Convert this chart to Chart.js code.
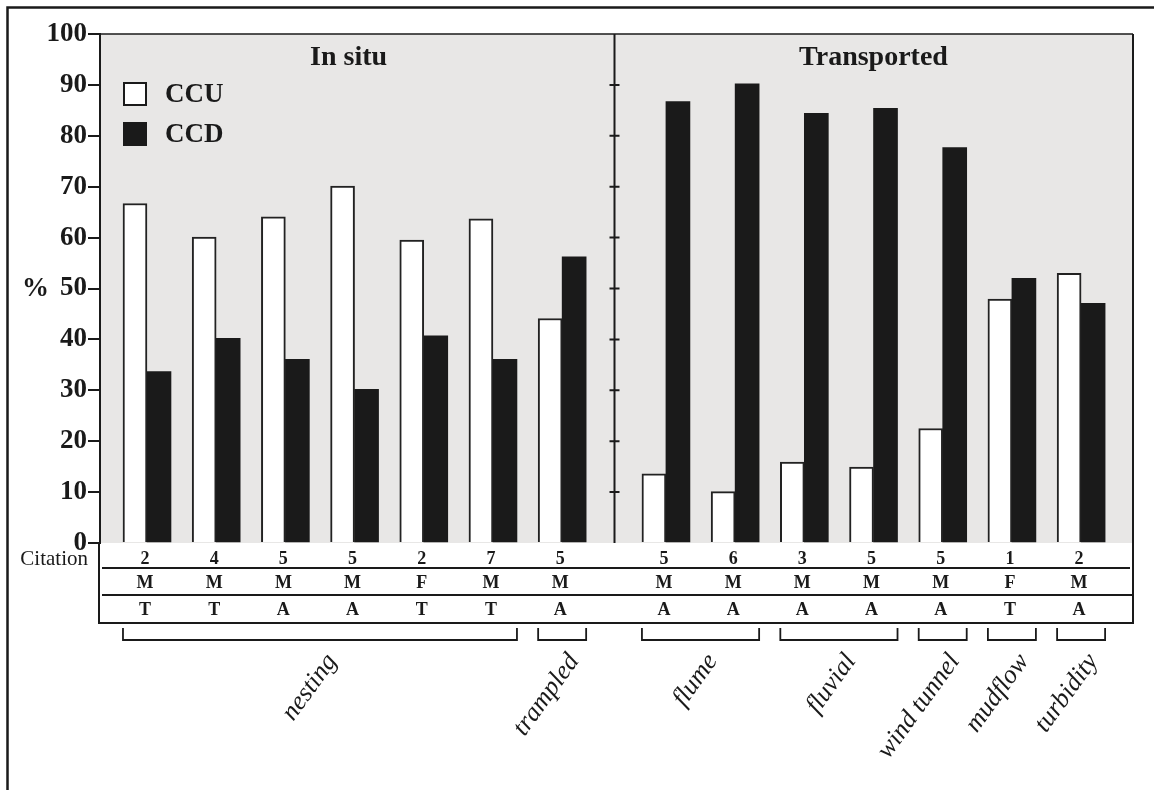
<!DOCTYPE html>
<html>
<head>
<meta charset="utf-8">
<script src="https://cdn.jsdelivr.net/npm/chart.js"></script>
<style>
  html, body { margin: 0; padding: 0; background: #fff; }
  #wrap { width: 1154px; height: 790px; }
</style>
</head>
<body>
<div id="wrap"><canvas id="myChart" width="1154" height="790"></canvas></div>
<script>
// values (percent)
var ccu = [66.7, 60.1, 64.1, 70.1, 59.5, 63.7, 44.1, 13.6, 10.1, 15.9, 14.9, 22.5, 47.9, 53.0];
var ccd = [33.7, 40.2, 36.1, 30.2, 40.7, 36.1, 56.2, 86.7, 90.2, 84.4, 85.4, 77.7, 52.0, 47.1];

// table under the bars
var citations = ['2', '4', '5', '5', '2', '7', '5', '5', '6', '3', '5', '5', '1', '2'];
var rowTwo = ['M', 'M', 'M', 'M', 'F', 'M', 'M', 'M', 'M', 'M', 'M', 'M', 'F', 'M'];
var rowThree = ['T', 'T', 'A', 'A', 'T', 'T', 'A', 'A', 'A', 'A', 'A', 'A', 'T', 'A'];

var panels = ['In situ', 'Transported'];
var panelSizes = [7, 7];
var groups = ['nesting', 'trampled', 'flume', 'fluvial', 'wind tunnel', 'mudflow', 'turbidity'];
var groupSizes = [6, 1, 2, 2, 1, 1, 1];
var seriesNames = ['CCU', 'CCD'];
var yTicks = [0, 10, 20, 30, 40, 50, 60, 70, 80, 90, 100];

var PANEL_GAP = 0.5;
var SERIF = '"Liberation Serif", "Times New Roman", serif';
var INK = '#1a1a1a';

// slot positions on the x axis, with a half slot between the panels
var xPos = [];
panelSizes.forEach(function (n, p) {
  for (var k = 0; k < n; k++) xPos.push(xPos.length + p * PANEL_GAP);
});

function pts(arr) {
  return arr.map(function (v, i) { return { x: xPos[i], y: v }; });
}

var figure = {
  id: 'figure',
  beforeDraw: function (chart) {
    var c = chart.ctx, a = chart.chartArea;
    c.save();
    c.fillStyle = '#e8e7e6';
    c.fillRect(a.left, a.top, a.right - a.left, a.bottom - a.top);
    // outer frame (top and left)
    c.strokeStyle = INK;
    c.lineWidth = 2.5;
    c.beginPath();
    c.moveTo(7.5, 790); c.lineTo(7.5, 7.5); c.lineTo(1154, 7.5);
    c.stroke();
    c.restore();
  },
  afterDraw: function (chart) {
    var c = chart.ctx, a = chart.chartArea;
    var xs = chart.scales.x, ys = chart.scales.y;
    var px = function (i) { return xs.getPixelForValue(xPos[i]); };
    c.save();
    c.strokeStyle = INK;
    c.fillStyle = INK;

    // plot border top
    c.lineWidth = 1.5;
    c.beginPath();
    c.moveTo(a.left, a.top); c.lineTo(a.right, a.top);
    c.stroke();

    // divider between panels, with ticks
    var first = panelSizes[0];
    var dx = Math.round((px(first - 1) + px(first)) / 2) + 0.5;
    c.lineWidth = 2;
    c.beginPath();
    c.moveTo(dx, a.top); c.lineTo(dx, a.bottom);
    yTicks.forEach(function (t) {
      if (t === 0 || t === 100) return;
      var y = ys.getPixelForValue(t);
      c.moveTo(dx - 5, y); c.lineTo(dx + 5, y);
    });
    c.stroke();

    // panel titles
    c.font = 'bold 28px ' + SERIF;
    c.textAlign = 'center';
    c.textBaseline = 'middle';
    var s = 0;
    panels.forEach(function (name, p) {
      var mid = (px(s) + px(s + panelSizes[p] - 1)) / 2;
      c.fillText(name, mid - (p === 0 ? 6 : 0), a.top + 24);
      s += panelSizes[p];
    });

    // legend
    var lx = a.left + 23, ly = a.top + 48;
    chart.data.datasets.forEach(function (ds, k) {
      var y = ly + k * 40;
      c.fillStyle = ds.backgroundColor;
      c.fillRect(lx, y, 24, 24);
      if (ds.borderWidth) {
        c.lineWidth = 2;
        c.strokeRect(lx + 1, y + 1, 22, 22);
      }
      c.fillStyle = INK;
      c.font = 'bold 27px ' + SERIF;
      c.textAlign = 'left';
      c.fillText(ds.label, lx + 42, y + 13);
    });

    // y title
    c.font = 'bold 27px ' + SERIF;
    c.textAlign = 'left';
    c.fillText('%', 22, ys.getPixelForValue(50) + 1);

    // table
    var b = a.bottom;
    c.lineWidth = 2;
    c.beginPath();
    c.moveTo(a.left - 1, b); c.lineTo(a.left - 1, b + 80);
    c.lineTo(a.right, b + 80); c.lineTo(a.right, a.top);
    c.stroke();
    c.beginPath();
    c.moveTo(a.left + 2, b + 25); c.lineTo(a.right - 3, b + 25);
    c.moveTo(a.left + 2, b + 52); c.lineTo(a.right, b + 52);
    c.stroke();

    c.font = '21px ' + SERIF;
    c.textAlign = 'right';
    c.fillText('Citation', a.left - 12, b + 16);

    c.font = 'bold 18px ' + SERIF;
    c.textAlign = 'center';
    for (var i = 0; i < xPos.length; i++) {
      var x = px(i) - 2;
      c.fillText(citations[i], x, b + 16);
      c.fillText(rowTwo[i], x, b + 40);
      c.fillText(rowThree[i], x, b + 67);
    }

    // brackets and rotated group names
    var g0 = 0;
    groups.forEach(function (name, g) {
      var x0 = px(g0) - 24, x1 = px(g0 + groupSizes[g] - 1) + 24;
      c.lineWidth = 1.8;
      c.beginPath();
      c.moveTo(x0, b + 85); c.lineTo(x0, b + 97); c.lineTo(x1, b + 97); c.lineTo(x1, b + 85);
      c.stroke();
      c.save();
      c.translate((x0 + x1) / 2 + 12, b + 114);
      c.rotate(-54 * Math.PI / 180);
      c.font = 'italic 26px ' + SERIF;
      c.textAlign = 'right';
      c.textBaseline = 'middle';
      c.fillText(name, 0, 0);
      c.restore();
      g0 += groupSizes[g];
    });

    c.restore();
  }
};

var ctx = document.getElementById('myChart').getContext('2d');
var chart = new Chart(ctx, {
  type: 'bar',
  data: {
    datasets: [{
      label: seriesNames[0],
      data: pts(ccu),
      backgroundColor: '#ffffff',
      borderColor: '#222222',
      borderWidth: 2
    }, {
      label: seriesNames[1],
      data: pts(ccd),
      backgroundColor: INK,
      borderWidth: 0
    }]
  },
  options: {
    responsive: false,
    animation: false,
    barThickness: 24,
    layout: { padding: { left: 0, top: 34, right: 21, bottom: 247 } },
    plugins: {
      legend: { display: false },
      tooltip: { enabled: false }
    },
    scales: {
      x: {
        type: 'linear',
        display: false,
        offset: false,
        grace: 0,
        min: -0.679,
        max: 14.25,
        ticks: { stepSize: 1 }
      },
      y: {
        min: 0,
        max: 100,
        afterFit: function (scale) { scale.width = 100; },
        afterBuildTicks: function (scale) {
          scale.ticks = yTicks.map(function (v) { return { value: v }; });
        },
        border: { display: true, color: INK, width: 2 },
        grid: { drawOnChartArea: false, drawTicks: true, tickLength: 12, color: INK, lineWidth: 2 },
        ticks: {
          padding: 1,
          color: INK,
          font: { family: SERIF, size: 27, weight: 'bold' }
        }
      }
    }
  },
  plugins: [figure]
});
</script>
</body>
</html>
